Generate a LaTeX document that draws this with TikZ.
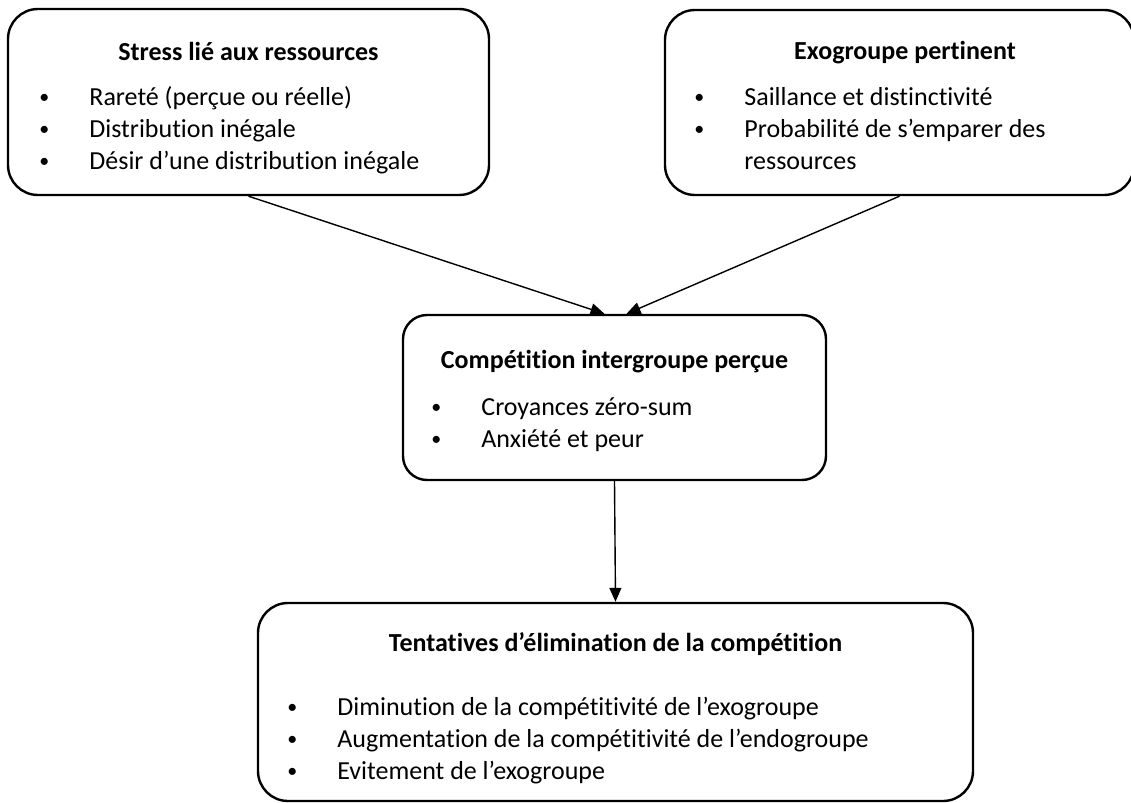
\documentclass[tikz,border=0pt]{standalone}
\usepackage{fontspec}
\setmainfont{Carlito}[Ligatures=NoCommon]
\usetikzlibrary{arrows.meta}
\newcommand{\puce}{\strut\makebox[25pt][l]{\raisebox{0.9pt}{\fontsize{10}{10}\selectfont\textbullet}}}
\begin{document}
\begin{tikzpicture}[x=0.5pt,y=-0.5pt,
    boite/.style={draw,line width=1.2pt,rounded corners=15pt,inner sep=0pt},
    titre/.style={anchor=base,inner sep=0pt,font=\fontsize{13}{16}\selectfont\bfseries},
    liste/.style={anchor=north west,inner sep=0pt,align=left,font=\fontsize{13}{16}\selectfont},
    fleche/.style={-{Triangle[length=7pt,width=6pt]},line width=0.7pt}]
  \useasboundingbox (0,0) rectangle (1131,803);
  \node[boite,minimum width=240.5pt,minimum height=93pt] (stress) at (248.5,102) {};
  \node[boite,minimum width=234.5pt,minimum height=92.5pt] (exo) at (899.5,102.5) {};
  \node[boite,rounded corners=12pt,minimum width=211.5pt,minimum height=82.5pt] (comp) at (614.5,397.5) {};
  \node[boite,minimum width=357.5pt,minimum height=99pt] (tent) at (615.5,702) {};
  \node[titre] (stress-t) at (248.5,61) {Stress lié aux ressources};
  \node[liste] (stress-l) at (39,82.6) {\puce Rareté (perçue ou réelle)\\
    \puce Distribution inégale\\
    \puce Désir d’une distribution inégale};
  \node[titre] (exo-t) at (905,60) {Exogroupe pertinent};
  \node[liste] (exo-l) at (694,82.6) {\puce Saillance et distinctivité\\
    \puce Probabilité de s’emparer des\\
    \strut\hspace{25pt}ressources};
  \node[titre] (comp-t) at (614.5,368) {Compétition intergroupe perçue};
  \node[liste] (comp-l) at (431,392.6) {\puce Croyances zéro-sum\\
    \puce Anxiété et peur};
  \node[titre] (tent-t) at (615.5,651) {Tentatives d’élimination de la compétition};
  \node[liste] (tent-l) at (287,692.6) {\puce Diminution de la compétitivité de l’exogroupe\\
    \puce Augmentation de la compétitivité de l’endogroupe\\
    \puce Evitement de l’exogroupe};
  \draw[fleche] (stress.south) -- ([xshift=-5pt]comp.north);
  \draw[fleche] (exo.south) -- ([xshift=6pt]comp.north);
  \draw[fleche] (comp.south) -- (tent.north);
\end{tikzpicture}
\end{document}
